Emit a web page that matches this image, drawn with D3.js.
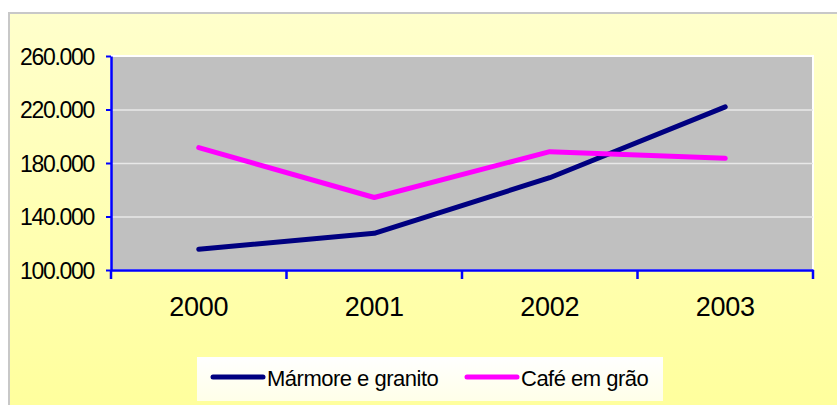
<!DOCTYPE html>
<html>
<head>
<meta charset="utf-8">
<script src="https://cdn.jsdelivr.net/npm/d3@7"></script>
<style>
  body { margin: 0; background: #fff; }
  svg { display: block; font-family: "Liberation Sans", Arial, sans-serif; }
</style>
</head>
<body>
<svg id="chart" width="837" height="405"></svg>
<script>
var years = ["2000", "2001", "2002", "2003"];
var marmore = [115500, 127400, 169000, 222000];
var cafe = [191500, 154200, 188500, 183500];
var seriesNames = ["Mármore e granito", "Café em grão"];
var seriesColors = ["#000080", "#ff00ff"];
var yTicks = [100000, 140000, 180000, 220000, 260000];

var svg = d3.select("#chart");
var plot = {left: 111, top: 56, right: 813, bottom: 270};

// background with gradient
var grad = svg.append("defs").append("linearGradient")
    .attr("id", "bg").attr("x1", 0).attr("y1", 0).attr("x2", 0).attr("y2", 1);
grad.append("stop").attr("offset", "0%").attr("stop-color", "#ffffcc");
grad.append("stop").attr("offset", "100%").attr("stop-color", "#ffff9c");

svg.append("rect")
    .attr("x", 9).attr("y", 13)
    .attr("width", 840).attr("height", 400)
    .attr("fill", "url(#bg)")
    .attr("stroke", "#c8c8c8")
    .attr("stroke-width", 2);

var x = d3.scaleBand()
    .domain(years)
    .range([plot.left, plot.right]);

var y = d3.scaleLinear()
    .domain([100000, 260000])
    .range([plot.bottom, plot.top]);

// plot area
svg.append("rect")
    .attr("x", plot.left).attr("y", plot.top)
    .attr("width", plot.right - plot.left)
    .attr("height", plot.bottom - plot.top)
    .attr("fill", "#c0c0c0")
    .attr("stroke", "#ffffff")
    .attr("stroke-width", 2);

// grid
svg.append("g")
    .attr("transform", "translate(" + plot.left + ",0)")
    .call(d3.axisRight(y)
        .tickValues(yTicks.slice(1, -1))
        .tickSize(plot.right - plot.left)
        .tickFormat(""))
    .call(function(g) {
        g.select(".domain").remove();
        g.selectAll("line").attr("stroke", "#e8e8e8").attr("stroke-width", 1.5);
    });

var fmt = function(d) { return d3.format(",")(d).replace(/,/g, "."); };

// y axis
svg.append("g")
    .attr("transform", "translate(" + plot.left + ",0)")
    .call(d3.axisLeft(y)
        .tickValues(yTicks)
        .tickSize(5)
        .tickSizeOuter(0)
        .tickPadding(12)
        .tickFormat(fmt))
    .call(function(g) {
        g.select(".domain").attr("stroke", "#0000ff").attr("stroke-width", 2.5);
        g.selectAll("line").attr("stroke", "#0000ff").attr("stroke-width", 2);
        g.selectAll("text").attr("fill", "#000")
            .style("font-size", "23px")
            .style("letter-spacing", "-1.3px")
            .attr("dy", "0.36em");
    });

// x axis
var xAxis = svg.append("g")
    .attr("transform", "translate(0," + plot.bottom + ")")
    .call(d3.axisBottom(x).tickSize(0).tickPadding(27))
    .call(function(g) {
        g.select(".domain").attr("stroke", "#0000ff").attr("stroke-width", 2.5);
        g.selectAll("text").attr("fill", "#000")
            .style("font-size", "27px")
            .style("letter-spacing", "-0.3px");
    });

// ticks between categories
var bounds = years.map(function(d) { return x(d); }).concat([plot.right]);
xAxis.selectAll(".sep")
    .data(bounds)
    .enter()
    .append("line")
    .attr("class", "sep")
    .attr("x1", function(d) { return d; })
    .attr("x2", function(d) { return d; })
    .attr("y1", 0).attr("y2", 9)
    .attr("stroke", "#0000ff")
    .attr("stroke-width", 2.5);

// lines
var line = d3.line()
    .x(function(d, i) { return x(years[i]) + x.bandwidth() / 2; })
    .y(function(d) { return y(d); });

[marmore, cafe].forEach(function(s, i) {
    svg.append("path")
        .datum(s)
        .attr("d", line)
        .attr("fill", "none")
        .attr("stroke", seriesColors[i])
        .attr("stroke-width", 5)
        .attr("stroke-linecap", "round")
        .attr("stroke-linejoin", "round");
});

// legend
var lg = svg.append("g").attr("transform", "translate(197,357)");
var lgrad = svg.select("defs").append("linearGradient")
    .attr("id", "lgbg").attr("x1", 0).attr("y1", 0).attr("x2", 0).attr("y2", 1);
lgrad.append("stop").attr("offset", "0%").attr("stop-color", "#ffffff");
lgrad.append("stop").attr("offset", "100%").attr("stop-color", "#ffffe8");
lg.append("rect")
    .attr("width", 466).attr("height", 44)
    .attr("fill", "url(#lgbg)");

var lx = [16, 270];
seriesNames.forEach(function(name, i) {
    lg.append("line")
        .attr("x1", lx[i]).attr("x2", lx[i] + 50)
        .attr("y1", 20).attr("y2", 20)
        .attr("stroke", seriesColors[i])
        .attr("stroke-width", 5)
        .attr("stroke-linecap", "round");
    lg.append("text")
        .attr("x", lx[i] + 54)
        .attr("y", 29)
        .style("font-size", "22px")
        .style("letter-spacing", "-0.5px")
        .attr("fill", "#000")
        .text(name);
});
</script>
</body>
</html>
